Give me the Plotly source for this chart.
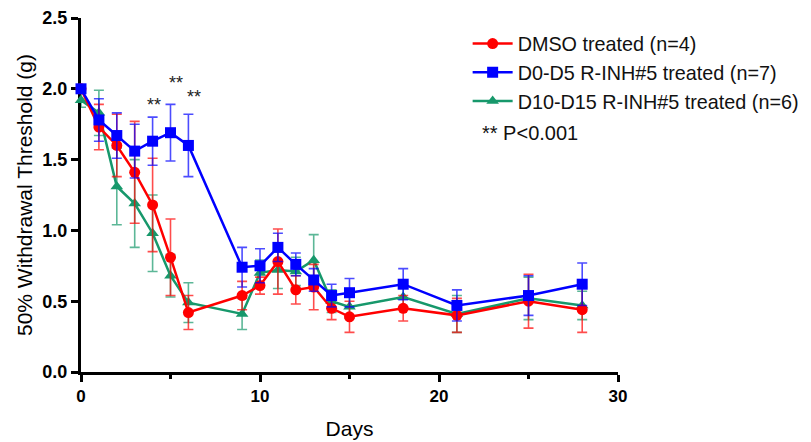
import plotly.graph_objects as go

days = [0, 1, 2, 3, 4, 5, 6, 9, 10, 11, 12, 13, 14, 15, 18, 21, 25, 28]

dmso_mean = [2.0, 1.73, 1.60, 1.41, 1.18, 0.81, 0.42, 0.54, 0.61, 0.78, 0.58, 0.60, 0.45, 0.39, 0.45, 0.40, 0.50, 0.44]
dmso_sd = [0.0, 0.16, 0.22, 0.36, 0.33, 0.27, 0.12, 0.10, 0.06, 0.23, 0.10, 0.16, 0.08, 0.11, 0.09, 0.12, 0.19, 0.16]

d0_mean = [2.0, 1.78, 1.67, 1.56, 1.63, 1.69, 1.60, 0.74, 0.75, 0.88, 0.76, 0.65, 0.54, 0.56, 0.62, 0.47, 0.54, 0.62]
d0_sd = [0.0, 0.15, 0.16, 0.19, 0.17, 0.20, 0.22, 0.14, 0.12, 0.10, 0.08, 0.08, 0.08, 0.10, 0.11, 0.11, 0.14, 0.15]

d10_mean = [1.92, 1.83, 1.31, 1.19, 0.98, 0.68, 0.49, 0.41, 0.70, 0.72, 0.71, 0.79, 0.50, 0.46, 0.53, 0.41, 0.52, 0.47]
d10_sd = [0.05, 0.16, 0.27, 0.31, 0.27, 0.15, 0.14, 0.11, 0.09, 0.13, 0.10, 0.18, 0.08, 0.08, 0.08, 0.13, 0.15, 0.10]

names = ["DMSO treated (n=4)", "D0-D5 R-INH#5 treated (n=7)", "D10-D15 R-INH#5 treated (n=6)"]

sig_days = [4.1, 5.3, 6.3]
sig_y = [1.885, 2.04, 1.94]

RED = "#ff0000"
BLUE = "#0000ff"
GREEN = "#17986b"
FONT = "Liberation Sans, Arial"

fig = go.Figure()

def add(mean, sd, name, color, ecolor, symbol, size, rank):
    fig.add_trace(go.Scatter(
        x=days, y=mean, name=name, mode="lines+markers",
        line=dict(color=color, width=2.5),
        marker=dict(color=color, symbol=symbol, size=size),
        error_y=dict(type="data", array=sd, visible=True, color=ecolor, thickness=1.6, width=5),
        cliponaxis=False, legendrank=rank,
    ))

add(d10_mean, d10_sd, names[2], GREEN, "rgba(23,152,107,0.7)", "triangle-up", 11, 3)
add(dmso_mean, dmso_sd, names[0], RED, "rgba(255,0,0,0.7)", "circle", 11, 1)
add(d0_mean, d0_sd, names[1], BLUE, "rgba(0,0,255,0.7)", "square", 11, 2)

for xd, yd in zip(sig_days, sig_y):
    fig.add_annotation(x=xd, y=yd, text="**", showarrow=False,
                       font=dict(family=FONT, size=18, color="#222"))

fig.add_annotation(xref="paper", yref="paper", x=0.743, y=0.675, xanchor="left", yanchor="middle",
                   text="** P<0.001", showarrow=False,
                   font=dict(family=FONT, size=20, color="#111"))

fig.update_layout(
    width=830, height=442,
    margin=dict(l=73, r=220, t=10, b=78),
    plot_bgcolor="white", paper_bgcolor="white",
    font=dict(family=FONT, color="black"),
    showlegend=True,
    legend=dict(x=0.72, y=0.9825, xanchor="left", yanchor="top",
                font=dict(size=19.8, color="#111"), bgcolor="rgba(0,0,0,0)",
                tracegroupgap=0, itemwidth=40),
    xaxis=dict(range=[0, 30], dtick=10, tick0=0, showgrid=False, zeroline=False, automargin=False,
               showline=True, linecolor="black", linewidth=3, layer="below traces",
               ticks="outside", ticklen=7, tickwidth=2.5, tickcolor="black",
               minor=dict(dtick=5, ticks="outside", ticklen=4, tickwidth=2.5, tickcolor="black"),
               tickfont=dict(size=17, family=FONT, weight="bold"),
               title=dict(text="Days", font=dict(size=21), standoff=16)),
    yaxis=dict(range=[0, 2.5], dtick=0.5, tickformat=".1f", showgrid=False, zeroline=False, automargin=False,
               showline=True, linecolor="black", linewidth=3, layer="below traces",
               ticks="outside", ticklen=7, tickwidth=2.5, tickcolor="black",
               tickfont=dict(size=18, family=FONT, weight="bold"),
               title=dict(text="50% Withdrawal Threshold (g)", font=dict(size=21), standoff=5)),
)

fig.write_html("out.html")
